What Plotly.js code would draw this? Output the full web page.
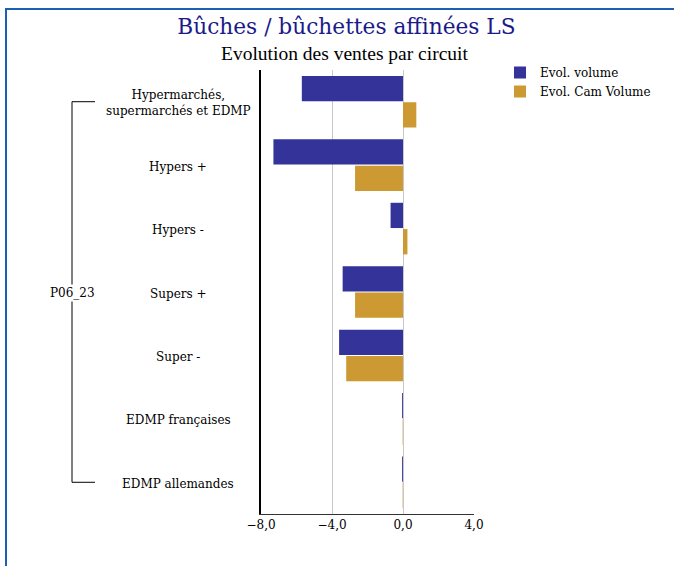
<!DOCTYPE html>
<html>
<head>
<meta charset="utf-8">
<script src="https://cdn.plot.ly/plotly-3.0.1.min.js"></script>
<style>
  html, body { margin: 0; padding: 0; background: #fff; }
  #wrap { position: relative; width: 674px; height: 566px; overflow: hidden; }
  #frame { position: absolute; left: 5px; top: 8px; width: 700px; height: 600px;
           border-top: 2px solid #1c5fb3; border-left: 2px solid #1c5fb3; pointer-events: none; z-index: 5; }
  #chart { position: absolute; left: 0; top: 0; width: 674px; height: 566px; }
</style>
</head>
<body>
<div id="wrap">
  <div id="chart"></div>
  <div id="frame"></div>
</div>
<script>
// ---- data ----
const categories = [
  "Hypermarchés,<br>supermarchés et EDMP",
  "Hypers +",
  "Hypers -",
  "Supers +",
  "Super -",
  "EDMP françaises",
  "EDMP allemandes"
];
const seriesNames = ["Evol. volume", "Evol. Cam Volume"];
const evolVolume    = [-5.7, -7.3, -0.7, -3.4, -3.6, -0.05, -0.05];
const evolCamVolume = [0.75, -2.7, 0.25, -2.7, -3.2, -0.02, -0.02];
const groupLabel = "P06_23";
const xTicks = [-8, -4, 0, 4];

const serif = "DejaVu Serif, serif";
const serifNarrow = "Liberation Serif, Times New Roman, serif";
const BLUE = "#333399", GOLD = "#CC9933";

const traces = [
  { type: "bar", orientation: "h", name: seriesNames[0], y: categories, x: evolVolume,
    marker: { color: BLUE }, hoverinfo: "x" },
  { type: "bar", orientation: "h", name: seriesNames[1], y: categories, x: evolCamVolume,
    marker: { color: GOLD }, hoverinfo: "x" }
];

const annotations = categories.map(c => ({
  xref: "paper", yref: "y", x: (178 - 261) / 213, y: c, text: c, showarrow: false,
  xanchor: "center", yanchor: "middle", align: "center", yshift: -1.5,
  font: { family: serif, size: 12, color: "#000" }
}));
annotations.push({
  xref: "paper", yref: "y", x: (72 - 261) / 213, y: categories[3], text: groupLabel, showarrow: false,
  xanchor: "center", yanchor: "middle", bgcolor: "#fff", yshift: -1,
  font: { family: serif, size: 12, color: "#000" }
});
annotations.push({
  xref: "paper", yref: "paper", x: 0.395, y: 1 + 16/444, text: "Evolution des ventes par circuit",
  showarrow: false, xanchor: "center", yanchor: "middle",
  font: { family: serifNarrow, size: 19.5, color: "#000" }
});

const bx0 = (72 - 261) / 213, bx1 = (95 - 261) / 213;
const shapes = [
  { type: "line", xref: "paper", yref: "y", x0: bx0, x1: bx0, y0: 0, y1: categories.length - 1,
    line: { color: "#000", width: 1 } },
  { type: "line", xref: "paper", yref: "y", x0: bx0, x1: bx1, y0: 0, y1: 0,
    line: { color: "#000", width: 1 } },
  { type: "line", xref: "paper", yref: "y", x0: bx0, x1: bx1, y0: categories.length - 1, y1: categories.length - 1,
    line: { color: "#000", width: 1 } }
];

const layout = {
  width: 674, height: 566,
  margin: { l: 261, r: 200, t: 70, b: 52 },
  paper_bgcolor: "#fff", plot_bgcolor: "#fff",
  separators: ", ",
  title: {
    text: "Bûches / bûchettes affinées LS",
    xref: "container", yref: "container", x: 0.514, y: 1 - 26.5/566,
    xanchor: "center", yanchor: "middle",
    font: { family: serif, size: 21.7, color: "#1a1a8a" }
  },
  barmode: "group",
  bargap: 0.17,
  bargroupgap: 0.04,
  xaxis: {
    range: [-8, 4], tickvals: xTicks, tickformat: ".1f",
    showgrid: true, gridcolor: "#c8c8c8", gridwidth: 1, zeroline: false,
    showline: true, linecolor: "#333", linewidth: 1,
    ticks: "", ticklen: 0,
    tickfont: { family: serif, size: 12, color: "#000" },
    fixedrange: true
  },
  yaxis: {
    type: "category", autorange: "reversed",
    showticklabels: false, showgrid: false, zeroline: false,
    showline: true, linecolor: "#000", linewidth: 2, ticks: "",
    fixedrange: true
  },
  showlegend: true,
  legend: {
    x: (500 - 261) / 213, y: (514 - 58) / 444, xanchor: "left", yanchor: "top",
    traceorder: "normal", bgcolor: "rgba(0,0,0,0)",
    font: { family: serif, size: 12, color: "#000" },
    tracegroupgap: 0, itemwidth: 30
  },
  annotations: annotations,
  shapes: shapes
};

Plotly.newPlot("chart", traces, layout, { displayModeBar: false, staticPlot: true });
</script>
</body>
</html>
